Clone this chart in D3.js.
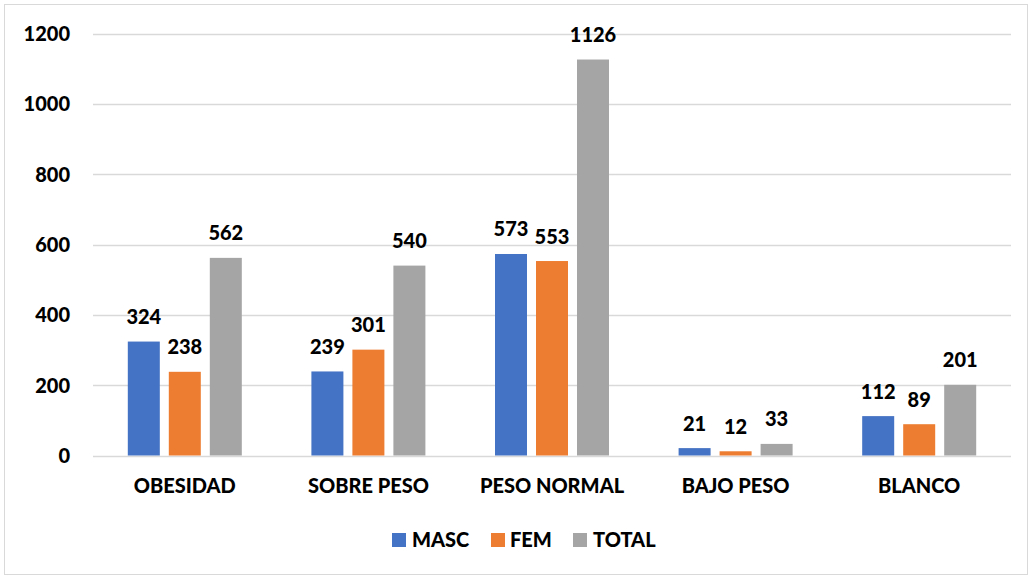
<!DOCTYPE html>
<html><head><meta charset="utf-8">
<script src="https://cdn.jsdelivr.net/npm/d3@7"></script>
<style>
html,body{margin:0;padding:0;background:#fff;}
svg{display:block;}
text{font-family:Lato,"Open Sans",sans-serif;font-weight:900;fill:#000;}
</style></head>
<body>
<svg id="chart" width="1031" height="578"></svg>
<script>
const categories = ["OBESIDAD","SOBRE PESO","PESO NORMAL","BAJO PESO","BLANCO"];
const seriesNames = ["MASC","FEM","TOTAL"];
const masc = [324,239,573,21,112];
const fem = [238,301,553,12,89];
const total = [562,540,1126,33,201];
const yTicks = [0,200,400,600,800,1000,1200];
const colors = ["#4472C4","#ED7D31","#A5A5A5"];

const seriesValues = [masc, fem, total];
const svg = d3.select("#chart");
const W = 1031, H = 578;
const FS = 20;

svg.append("rect").attr("x",4.5).attr("y",4.5).attr("width",W-8).attr("height",H-8)
  .attr("fill","#fff").attr("stroke","#d9d9d9").attr("stroke-width",1);

const x = d3.scaleBand().domain(categories).range([93,1011]).paddingInner(0).paddingOuter(0);
const y = d3.scaleLinear().domain([0,1200]).range([455.5,33.5]);
const groupW = 114;
const x1 = d3.scaleBand().domain(seriesNames).range([0,groupW]).paddingInner(9/41).paddingOuter(0);

// gridlines
svg.append("g").selectAll("line").data(yTicks).join("line")
  .attr("x1",93).attr("x2",1011)
  .attr("y1",d=>Math.round(y(d))+0.5).attr("y2",d=>Math.round(y(d))+0.5)
  .attr("stroke","#d9d9d9").attr("stroke-width",1.3);

// y axis labels
const yAxis = d3.axisLeft(y).tickValues(yTicks).tickFormat(d3.format("d")).tickSize(0).tickPadding(0);
const ga = svg.append("g").attr("transform","translate(70,0)").call(yAxis);
ga.select(".domain").remove();
ga.selectAll("text").attr("font-size",FS).attr("font-family","Lato").attr("font-weight","bold").attr("fill","#000").attr("dy","0.35em");

// x axis labels
const xAxis = d3.axisBottom(x).tickSize(0).tickPadding(0);
const gx = svg.append("g").attr("transform","translate(0,493)").call(xAxis);
gx.select(".domain").remove();
gx.selectAll("text").attr("font-size",FS).attr("font-family","Lato").attr("font-weight","bold").attr("fill","#000").attr("dy","0");

// bars
const groups = svg.append("g").selectAll("g").data(categories).join("g")
  .attr("transform",(d)=>`translate(${x(d)+x.bandwidth()/2-groupW/2},0)`);

groups.each(function(cat,i){
  const g = d3.select(this);
  seriesNames.forEach((s,j)=>{
    const v = seriesValues[j][i];
    g.append("rect").attr("x",x1(s)).attr("width",x1.bandwidth())
      .attr("y",y(v)).attr("height",y(0)-y(v)).attr("fill",colors[j]);
    g.append("text").attr("x",x1(s)+x1.bandwidth()/2).attr("y",y(v)-17.5)
      .attr("text-anchor","middle").attr("font-size",FS).attr("font-weight","bold").text(v);
  });
});

// legend
const legendItems = [{x:392,tx:412},{x:491,tx:510},{x:573,tx:593}];
const lg = svg.append("g");
seriesNames.forEach((s,j)=>{
  lg.append("rect").attr("x",legendItems[j].x).attr("y",533).attr("width",14).attr("height",14).attr("fill",colors[j]);
  lg.append("text").attr("x",legendItems[j].tx).attr("y",547).attr("font-size",FS).attr("font-weight","bold").text(s);
});
</script>
</body></html>
